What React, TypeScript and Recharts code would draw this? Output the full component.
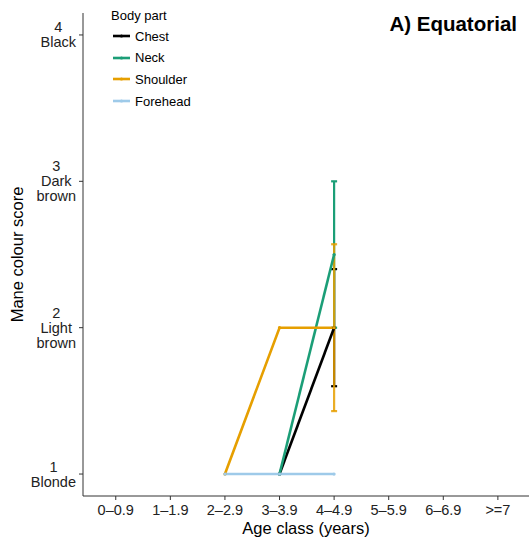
import { LineChart, Line, XAxis, YAxis, ErrorBar } from "recharts";

const AGE_CLASSES = ["0–0.9", "1–1.9", "2–2.9", "3–3.9", "4–4.9", "5–5.9", "6–6.9", ">=7"];
const SCORE_TICKS = [1, 2, 3, 4];
const SCORE_LABELS = ["1\nBlonde", "2\nLight\nbrown", "3\nDark\nbrown", "4\nBlack"];

const chestAges = ["3–3.9", "4–4.9"];
const chestMeans = [1, 2];
const chestErr = [null, 0.4];

const neckAges = ["3–3.9", "4–4.9"];
const neckMeans = [1, 2.5];
const neckErr = [null, 0.5];

const shoulderAges = ["2–2.9", "3–3.9", "4–4.9"];
const shoulderMeans = [1, 2, 2];
const shoulderErr = [null, null, 0.57];

const foreheadAges = ["2–2.9", "3–3.9", "4–4.9"];
const foreheadMeans = [1, 1, 1];
const foreheadErr = [null, null, null];

const FONT = "'Liberation Sans', Arial, Helvetica, sans-serif";

const build = (ages: string[], means: number[], errs: (number | null)[]) =>
  ages.map((a, i) => ({ x: AGE_CLASSES.indexOf(a) + 1, y: means[i], err: errs[i] }));

const series = [
  { name: "Chest", color: "#000000", data: build(chestAges, chestMeans, chestErr), errOpacity: 1 },
  { name: "Neck", color: "#1b9e77", data: build(neckAges, neckMeans, neckErr), errOpacity: 1 },
  { name: "Shoulder", color: "#e69f00", data: build(shoulderAges, shoulderMeans, shoulderErr), errOpacity: 0.85 },
  { name: "Forehead", color: "#9ecae9", data: build(foreheadAges, foreheadMeans, foreheadErr), errOpacity: 1 },
];

let ctx: CanvasRenderingContext2D | null = null;
const measure = (s: string, size: number) => {
  if (!ctx) ctx = document.createElement("canvas").getContext("2d");
  if (!ctx) return s.length * size * 0.55;
  ctx.font = `${size}px 'Liberation Sans', Arial, sans-serif`;
  return ctx.measureText(s).width;
};

const YTick = ({ x, y, payload }: any) => {
  const idx = SCORE_TICKS.indexOf(payload.value);
  const lines = (SCORE_LABELS[idx] || "").split("\n");
  const size = 14.5;
  const lh = 15;
  const w = Math.max(...lines.map((l) => measure(l, size)));
  const cx = x - 1 - w / 2;
  const y0 = y - ((lines.length - 1) * lh) / 2;
  return (
    <text textAnchor="middle" fontSize={size} fill="#222" fontFamily={FONT}>
      {lines.map((l, i) => (
        <tspan key={i} x={cx} y={y0 + i * lh} dominantBaseline="central">
          {l}
        </tspan>
      ))}
    </text>
  );
};

const Dot = (color: string) => (p: any) =>
  p.cx == null ? null : <circle key={p.index} cx={p.cx} cy={p.cy} r={1.6} fill={color} />;

export default function App() {
  return (
    <div style={{ position: "absolute", left: 0, top: 0, width: 529, height: 543, background: "#fff", fontFamily: FONT }}>
      <LineChart width={529} height={543} margin={{ top: 13, right: 0, bottom: 0, left: 0 }}>
        <XAxis
          type="number"
          dataKey="x"
          domain={[0.4, 8.57]}
          ticks={[1, 2, 3, 4, 5, 6, 7, 8]}
          allowDataOverflow
          tickFormatter={(v: number) => AGE_CLASSES[v - 1]}
          height={47}
          tickSize={4}
          tickMargin={5}
          stroke="#333"
          tick={{ fill: "#222", fontSize: 14.5, fontFamily: FONT }}
          label={{ value: "Age class (years)", position: "insideBottom", offset: 9, fill: "#000", fontSize: 16.5, fontFamily: FONT }}
        />
        <YAxis
          type="number"
          dataKey="y"
          domain={[0.85, 4.15]}
          ticks={SCORE_TICKS}
          allowDataOverflow
          width={83}
          tickSize={4}
          stroke="#333"
          tick={<YTick />}
          label={{ value: "Mane colour score", angle: -90, position: "insideLeft", offset: 17, fill: "#000", fontSize: 16.5, fontFamily: FONT, style: { textAnchor: "middle" } }}
        />
        {series.map((s) => (
          <Line
            key={`err-${s.name}`}
            data={s.data}
            dataKey="y"
            stroke="none"
            dot={false}
            activeDot={false}
            legendType="none"
            isAnimationActive={false}
          >
            <ErrorBar dataKey="err" width={3} strokeWidth={2.2} stroke={s.color} strokeOpacity={s.errOpacity} direction="y" />
          </Line>
        ))}
        {series.map((s) => (
          <Line
            key={s.name}
            data={s.data}
            dataKey="y"
            stroke={s.color}
            strokeWidth={2.6}
            dot={Dot(s.color)}
            activeDot={false}
            isAnimationActive={false}
          />
        ))}
      </LineChart>
      <div style={{ position: "absolute", right: 12, top: 12, fontSize: 20.5, fontWeight: "bold", color: "#000" }}>
        A) Equatorial
      </div>
      <div style={{ position: "absolute", left: 111, top: 8, fontSize: 13, color: "#000", lineHeight: "16px" }}>
        Body part
      </div>
      {series.map((s, i) => (
        <div
          key={s.name}
          style={{ position: "absolute", left: 112, top: 28 + i * 21.7, height: 16, display: "flex", alignItems: "center", fontSize: 13, color: "#000" }}
        >
          <svg width={19} height={16} style={{ display: "block" }}>
            <line x1={1} y1={8} x2={18} y2={8} stroke={s.color} strokeWidth={2.6} />
            <circle cx={9.5} cy={8} r={1.6} fill={s.color} />
          </svg>
          <span style={{ marginLeft: 4 }}>{s.name}</span>
        </div>
      ))}
    </div>
  );
}
